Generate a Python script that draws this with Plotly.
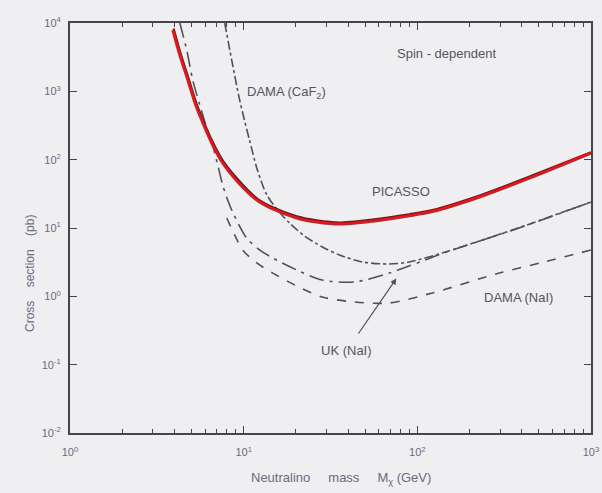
import plotly.graph_objects as go

# PICASSO limit (red and underlying black curve)
pic_red_x = [3.91, 4.29, 4.77, 5.30, 5.89, 6.55, 7.57, 9.48, 11.9, 14.7, 20.2, 26.3, 35.6, 55.1, 89.9, 122, 237, 458, 1000]
pic_red_y = [7900, 3400, 1466, 631, 322, 175, 89.3, 44.1, 25.7, 19.0, 14.0, 12.2, 11.4, 12.6, 15.1, 17.4, 29.4, 55.7, 125]
pic_blk_x = [3.95, 4.33, 4.81, 5.34, 5.93, 6.60, 7.62, 9.55, 11.9, 14.7, 20.2, 26.3, 35.6, 55.1, 89.9, 122, 237, 458, 1000]
pic_blk_y = [8300, 3600, 1560, 670, 342, 186, 95.0, 47.0, 27.2, 20.1, 14.8, 12.9, 12.0, 13.3, 15.9, 18.3, 31.0, 58.5, 128]

# UK (NaI)
uk_x = [4.29, 4.70, 5.09, 5.59, 6.05, 6.55, 7.09, 7.57, 8.09, 8.64, 10.4, 12.4, 14.7, 20.2, 28.4, 43.4, 69.0, 147, 385, 1000]
uk_y = [10000, 4030, 1466, 631, 322, 181, 83.6, 42.6, 25.7, 17.1, 7.14, 4.76, 3.64, 2.43, 1.73, 1.62, 2.19, 4.45, 10.0, 24.0]

# DAMA (CaF2)
caf_x = [7.78, 8.53, 9.48, 10.1, 10.8, 12.0, 13.6, 15.7, 18.4, 22.4, 28.4, 35.6, 48.3, 69.0, 89.9, 147, 385, 1000]
caf_y = [10000, 2877, 747, 380, 194, 70.6, 30.4, 18.3, 11.8, 7.64, 5.27, 4.03, 3.18, 2.97, 3.18, 4.50, 10.1, 24.0]

# DAMA (NaI)
nai_x = [7.99, 8.88, 9.87, 11.9, 14.7, 20.2, 28.4, 43.4, 69.0, 122, 296, 537, 1000]
nai_y = [14.0, 7.89, 4.76, 3.08, 2.19, 1.42, 0.977, 0.826, 0.798, 1.12, 2.19, 3.18, 4.76]

x_tick_vals = [1, 10, 100, 1000]
x_tick_text = ["10<sup>0</sup>", "10<sup>1</sup>", "10<sup>2</sup>", "10<sup>3</sup>"]
y_tick_vals = [0.01, 0.1, 1, 10, 100, 1000, 10000]
y_tick_text = ["10<sup>-2</sup>", "10<sup>-1</sup>", "10<sup>0</sup>", "10<sup>1</sup>",
               "10<sup>2</sup>", "10<sup>3</sup>", "10<sup>4</sup>"]

gray = "#505058"
fontfam = "Liberation Sans, Arial, sans-serif"
fig = go.Figure()
fig.add_trace(go.Scatter(x=nai_x, y=nai_y, mode="lines", line=dict(color=gray, width=1.6, dash="dash", shape="spline", smoothing=0.8)))
fig.add_trace(go.Scatter(x=uk_x, y=uk_y, mode="lines", line=dict(color=gray, width=1.6, dash="longdashdot", shape="spline", smoothing=0.8)))
fig.add_trace(go.Scatter(x=caf_x, y=caf_y, mode="lines", line=dict(color=gray, width=1.6, dash="dashdot", shape="spline", smoothing=0.8)))
fig.add_trace(go.Scatter(x=pic_blk_x, y=pic_blk_y, mode="lines", line=dict(color="#303030", width=2.2, shape="spline", smoothing=0.8)))
fig.add_trace(go.Scatter(x=pic_red_x, y=pic_red_y, mode="lines", line=dict(color="#e8141c", width=3, shape="spline", smoothing=0.8)))

txt = dict(family=fontfam, size=13, color="#55555e")
anns = [
    dict(x=2.167, y=3.56, text="Spin - dependent", xanchor="center", yanchor="middle"),
    dict(x=1.005, y=2.99, text="DAMA (CaF<sub>2</sub>)", xanchor="left", yanchor="middle"),
    dict(x=1.908, y=1.53, text="PICASSO", xanchor="center", yanchor="middle"),
    dict(x=2.374, y=-0.01, text="DAMA (NaI)", xanchor="left", yanchor="middle"),
    dict(x=1.592, y=-0.786, text="UK (NaI)", xanchor="center", yanchor="middle"),
]
annotations = []
for a in anns:
    a.update(xref="x", yref="y", showarrow=False, font=txt)
    annotations.append(a)
# arrow from UK (NaI) label to its curve
annotations.append(dict(x=1.879, y=0.26, ax=1.655, ay=-0.566, xref="x", yref="y", axref="x", ayref="y",
                        text="", showarrow=True, arrowhead=2, arrowsize=1, arrowwidth=1.2, arrowcolor=gray))
# axis titles
annotations.append(dict(x=-0.077, y=0.39, xref="paper", yref="paper", text="Cross    section    (pb)",
                        textangle=-90, showarrow=False, xanchor="center", yanchor="middle",
                        font=dict(family=fontfam, size=12, color="#6a6a80")))
annotations.append(dict(x=0.52, y=-0.11, xref="paper", yref="paper", text="Neutralino     mass     M<sub>χ</sub> (GeV)",
                        showarrow=False, xanchor="center", yanchor="middle",
                        font=dict(family=fontfam, size=13, color="#6a6a80")))

axis_common = dict(type="log", showgrid=False, zeroline=False, showline=True, linecolor="#45454c", linewidth=2,
                   mirror="ticks", ticks="inside", ticklen=7, tickwidth=1, tickcolor="#45454c", automargin=False,
                   tickfont=dict(family=fontfam, size=11, color="#6a6a80"))

fig.update_layout(
    width=602, height=493,
    margin=dict(l=70, r=11, t=23, b=60),
    paper_bgcolor="#efeff1", plot_bgcolor="#efeff1",
    showlegend=False,
    annotations=annotations,
    xaxis=dict(range=[0, 3], tickvals=x_tick_vals, ticktext=x_tick_text, ticklabelstandoff=8,
               minor=dict(ticks="inside", ticklen=4, tickcolor="#45454c", dtick="D1"), **axis_common),
    yaxis=dict(range=[-2, 4], tickvals=y_tick_vals, ticktext=y_tick_text, ticklabelstandoff=5, **axis_common),
)

fig.write_html("out.html", config={"displayModeBar": False})

# remove the browser's default page margin so the figure fills the window exactly
with open("out.html", "r", encoding="utf-8") as f:
    html = f.read()
html = html.replace("<head>", "<head><style>html,body{margin:0;padding:0;background:#efeff1;}</style>", 1)
with open("out.html", "w", encoding="utf-8") as f:
    f.write(html)
